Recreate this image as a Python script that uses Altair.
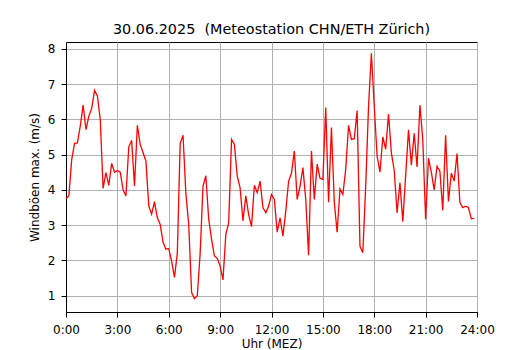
import altair as alt
import pandas as pd

title_text = "30.06.2025\u00a0 (Meteostation CHN/ETH Zürich)"
x_label = "Uhr (MEZ)"
y_label = "Windböen max. (m/s)"
tick_hours = [0, 3, 6, 9, 12, 15, 18, 21, 24]
y_ticks = [1, 2, 3, 4, 5, 6, 7, 8]

# 10-minute maximum wind gusts (m/s), 00:00 .. 23:50
gust = [
    3.75, 3.83, 4.86, 5.32, 5.33, 5.81, 6.40, 5.71, 6.09, 6.31,
    6.82, 6.66, 6.00, 4.04, 4.49, 4.13, 4.75, 4.50, 4.55, 4.50,
    4.00, 3.83, 5.22, 5.40, 4.11, 5.83, 5.29, 5.05, 4.82, 3.54,
    3.31, 3.67, 3.21, 3.02, 2.52, 2.32, 2.34, 1.98, 1.52, 2.20,
    5.32, 5.55, 3.90, 3.02, 1.09, 0.92, 1.00, 2.20, 4.10, 4.40,
    3.17, 2.60, 2.13, 2.06, 1.84, 1.45, 2.74, 3.07, 5.43, 5.29,
    4.39, 4.06, 3.12, 3.83, 3.30, 2.96, 4.13, 3.92, 4.25, 3.50,
    3.35, 3.54, 3.87, 3.73, 2.80, 3.21, 2.69, 3.40, 4.25, 4.47,
    5.10, 3.73, 4.10, 4.63, 3.73, 2.15, 5.10, 3.73, 4.73, 4.33,
    4.30, 6.33, 3.65, 5.77, 3.65, 2.80, 4.03, 3.87, 4.58, 5.83,
    5.43, 5.45, 6.25, 2.40, 2.22, 4.10, 6.37, 7.87, 6.37, 4.96,
    4.50, 5.50, 5.15, 6.15, 5.05, 4.55, 3.35, 4.20, 3.10, 4.40,
    5.70, 4.70, 5.60, 4.65, 6.40, 5.43, 3.17, 4.90, 4.50, 4.00,
    4.67, 4.53, 3.42, 5.55, 3.67, 4.47, 4.25, 5.03, 3.65, 3.50,
    3.54, 3.50, 3.18, 3.19,
]
hours = [i * 10 / 60 for i in range(len(gust))]

df = pd.DataFrame({"Stunde": hours, "Windböen": gust})

FONT = "DejaVu Sans"

chart = alt.Chart(df).mark_line(color="#ff0000", strokeWidth=1.3).encode(
    x=alt.X(
        "Stunde:Q",
        scale=alt.Scale(domain=[0, 24], nice=False, zero=False),
        axis=alt.Axis(
            values=tick_hours,
            labelExpr="datum.value + ':00'",
            title=x_label,
            labelFlush=False,
            labelOverlap=False,
            tickSize=5,
            labelPadding=7,
            titlePadding=3,
        ),
    ),
    y=alt.Y(
        "Windböen:Q",
        scale=alt.Scale(domain=[0.54, 8.19], nice=False, zero=False),
        axis=alt.Axis(
            values=y_ticks,
            format="d",
            title=y_label,
            tickSize=5,
            labelPadding=6,
            titlePadding=6,
        ),
    ),
).properties(
    width=411,
    height=270,
    title=alt.TitleParams(
        text=title_text,
        fontSize=14.4,
        font=FONT,
        fontWeight="normal",
        color="black",
        anchor="middle",
        offset=5,
    ),
    padding={"left": 58, "top": 34, "right": 45, "bottom": 40},
    autosize=alt.AutoSizeParams(type="none"),
).configure_view(
    stroke="black", strokeWidth=1
).configure_axis(
    labelFont=FONT,
    titleFont=FONT,
    labelFontSize=12,
    titleFontSize=12,
    titleFontWeight="normal",
    labelColor="black",
    titleColor="black",
    domainColor="black",
    tickColor="black",
    domainWidth=1,
    tickWidth=1,
    gridColor="#b0b0b0",
    gridWidth=1,
    gridOpacity=1,
)

chart.save("out.html", embed_options={"renderer": "svg", "actions": False})
